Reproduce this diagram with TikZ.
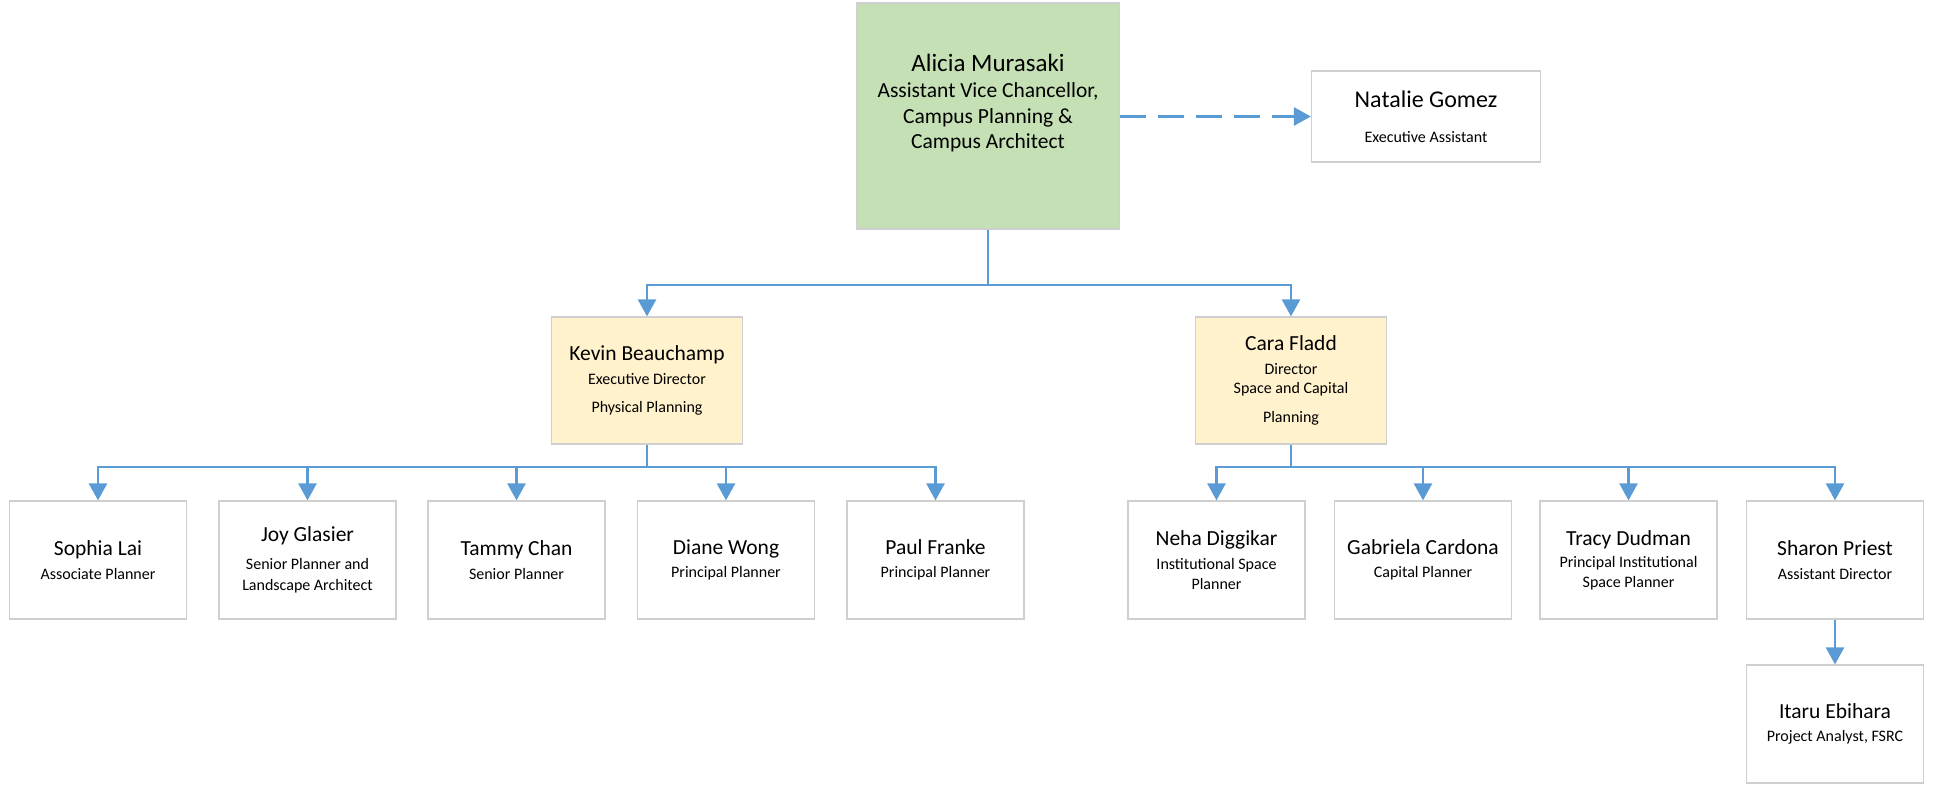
\documentclass[tikz,border=0pt]{standalone}
\usepackage{fontspec}
\setmainfont{Carlito}
\usepackage{xcolor}
\usepackage{tikz}
\usetikzlibrary{arrows.meta, positioning, calc}

\definecolor{lineblue}{HTML}{5B9BD5}
\definecolor{headgreen}{HTML}{C5E0B4}
\definecolor{leadyellow}{HTML}{FFF2CC}
\definecolor{boxgray}{HTML}{CFCFCF}

\newcommand{\pname}[1]{{\fontsize{21.5}{24}\selectfont #1}}

\tikzset{
  staff/.style={draw=boxgray, line width=1.2pt, fill=white, minimum width=177pt,
    minimum height=118pt, align=center, inner sep=2pt, font=\fontsize{16}{19.5}\selectfont},
  lead/.style={staff, fill=leadyellow, minimum width=191pt, minimum height=127pt},
  conn/.style={draw=lineblue, line width=2.6pt, -{Triangle[length=17pt,width=18pt]}},
}

\begin{document}
\begin{tikzpicture}[x=1pt, y=-1pt]
  \useasboundingbox (0,0) rectangle (1933,785);

  % Head of unit
  \node[staff, fill=headgreen, draw=boxgray, minimum width=263pt, minimum height=226pt] (amur) at (988,116) {};
  \node[align=center, font=\fontsize{21.5}{25.5}\selectfont] (amurtxt) at (988,103)
    {{\fontsize{25}{28}\selectfont Alicia Murasaki}\\[1pt]Assistant Vice Chancellor,\\Campus Planning \&\\Campus Architect};

  % Assistant
  \node[staff, minimum width=229pt, minimum height=91pt] (ngom) at (1426,116.5)
    {{\fontsize{24}{26}\selectfont Natalie Gomez}\\[16pt]Executive Assistant};
  \draw[conn, dash pattern=on 26pt off 12pt] (amur.east |- ngom.west) -- (ngom.west);

  % Directors
  \node[lead] (kbea) at (647,380.5)
    {\pname{Kevin Beauchamp}\\[4.3pt]Executive Director\\[8.5pt]Physical Planning};
  \node[lead] (cfla) at (1291,380.5)
    {\pname{Cara Fladd}\\[4.3pt]Director\\Space and Capital\\[9.5pt]Planning};

  \coordinate (topbus) at (988,285);
  \draw[conn] (amur.south) -- (topbus) -| (kbea.north);
  \draw[conn] (topbus) -| (cfla.north);

  % Physical planning staff
  \node[staff] (slai) at (98,560) {\pname{Sophia Lai}\\[4pt]Associate Planner};
  \node[staff] (jgla) at (307.5,560) {\pname{Joy Glasier}\\[9pt]Senior Planner and\\[1.5pt]Landscape Architect};
  \node[staff] (tcha) at (516.5,560) {\pname{Tammy Chan}\\[4pt]Senior Planner};
  \node[staff] (dwon) at (726,560) {\pname{Diane Wong}\\[4pt]Principal Planner};
  \node[staff] (pfra) at (935.5,560) {\pname{Paul Franke}\\[4pt]Principal Planner};

  \coordinate (kbus) at (647,467);
  \draw[conn] (kbea.south) -- (kbus) -| (slai.north);
  \draw[conn] (kbus) -| (jgla.north);
  \draw[conn] (kbus) -| (tcha.north);
  \draw[conn] (kbus) -| (dwon.north);
  \draw[conn] (kbus) -| (pfra.north);

  % Space and capital planning staff
  \node[staff] (ndig) at (1216.5,560) {\pname{Neha Diggikar}\\[5pt]Institutional Space\\Planner};
  \node[staff] (gcar) at (1423,560) {\pname{Gabriela Cardona}\\[4pt]Capital Planner};
  \node[staff] (tdud) at (1628.5,560) {\pname{Tracy Dudman}\\[3pt]Principal Institutional\\Space Planner};
  \node[staff] (spri) at (1835,560) {\pname{Sharon Priest}\\[4pt]Assistant Director};
  \node[staff] (iebi) at (1835,724) {\pname{Itaru Ebihara}\\[4pt]Project Analyst, FSRC};

  \coordinate (cbus) at (1291,467);
  \draw[conn] (cfla.south) -- (cbus) -| (ndig.north);
  \draw[conn] (cbus) -| (gcar.north);
  \draw[conn] (cbus) -| (tdud.north);
  \draw[conn] (cbus) -| (spri.north);
  \draw[conn] (spri.south) -- (iebi.north);
\end{tikzpicture}
\end{document}
